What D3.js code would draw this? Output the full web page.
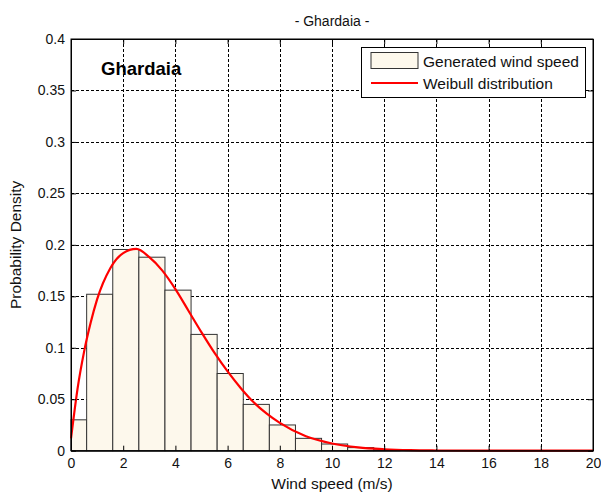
<!DOCTYPE html>
<html>
<head>
<meta charset="utf-8">
<script src="https://cdn.jsdelivr.net/npm/d3@7"></script>
<style>
  body { margin: 0; background: #fff; }
  svg { font-family: "Liberation Sans", Arial, sans-serif; }
</style>
</head>
<body>
<svg id="chart" width="601" height="494"></svg>
<script>
// histogram bins (left edge, right edge, density)
var binEdges = [0, 0.6, 1.6, 2.6, 3.6, 4.6, 5.6, 6.6, 7.6, 8.6, 9.6, 10.6, 11.6, 12.6];
var binDensity = [0.030, 0.152, 0.1955, 0.188, 0.156, 0.113, 0.075, 0.045, 0.025, 0.012, 0.0065, 0.003, 0.0008];

// weibull curve
var curveX = [0, 0.1, 0.25, 0.5, 0.75, 1, 1.5, 2, 2.5, 3, 3.5, 4, 4.5, 5, 5.5, 6, 6.5, 7, 7.5, 8, 9, 10, 11, 12, 13, 14, 16, 18, 20];
var curveY = [0.012, 0.032, 0.060, 0.096, 0.124, 0.147, 0.177, 0.192, 0.196, 0.188, 0.175, 0.157, 0.136, 0.115, 0.095, 0.077, 0.061, 0.047, 0.036, 0.027, 0.014, 0.007, 0.0032, 0.0014, 0.0005, 0.0002, 0, 0, 0];

var xTicks = [0, 2, 4, 6, 8, 10, 12, 14, 16, 18, 20];
var yTicks = [0, 0.05, 0.1, 0.15, 0.2, 0.25, 0.3, 0.35, 0.4];
var legendLabels = ["Generated wind speed", "Weibull distribution"];

var svg = d3.select("#chart");
var pLeft = 71, pRight = 593, pTop = 39, pBottom = 450.7;

var x = d3.scaleLinear().domain([0, 20]).range([pLeft, pRight]);
var y = d3.scaleLinear().domain([0, 0.4]).range([pBottom, pTop]);

// grid (under the bars)
var grid = svg.append("g").attr("stroke", "#000").attr("stroke-width", 1).attr("stroke-dasharray", "3,2");
grid.selectAll(".gx").data(xTicks.slice(1, -1)).enter().append("line")
    .attr("x1", d => Math.round(x(d)) + 0.5).attr("x2", d => Math.round(x(d)) + 0.5)
    .attr("y1", pTop).attr("y2", pBottom);
grid.selectAll(".gy").data(yTicks.slice(1, -1)).enter().append("line")
    .attr("y1", d => Math.round(y(d)) + 0.5).attr("y2", d => Math.round(y(d)) + 0.5)
    .attr("x1", pLeft).attr("x2", pRight);

// bars
svg.append("g").selectAll("rect").data(binDensity).enter().append("rect")
    .attr("x", (d, i) => x(binEdges[i]))
    .attr("width", (d, i) => x(binEdges[i + 1]) - x(binEdges[i]))
    .attr("y", d => y(d))
    .attr("height", d => pBottom - y(d))
    .attr("fill", "#fdf8ec")
    .attr("stroke", "#333")
    .attr("stroke-width", 1);

// weibull line
var line = d3.line().x(d => x(d[0])).y(d => y(d[1])).curve(d3.curveMonotoneX);
svg.append("path")
    .datum(curveX.map((v, i) => [v, curveY[i]]))
    .attr("d", line)
    .attr("fill", "none")
    .attr("stroke", "#ff0000")
    .attr("stroke-width", 2.2);

// axes, ticks pointing inwards like matlab
svg.append("g").attr("transform", "translate(0," + pBottom + ")")
    .call(d3.axisBottom(x).tickValues(xTicks).tickSizeInner(-5).tickSizeOuter(0).tickPadding(7));
svg.append("g").attr("transform", "translate(" + pLeft + ",0)")
    .call(d3.axisLeft(y).tickValues(yTicks).tickFormat(d => d3.format("~g")(d)).tickSizeInner(-5).tickSizeOuter(0).tickPadding(6));
svg.append("g").attr("transform", "translate(0," + pTop + ")")
    .call(d3.axisTop(x).tickValues(xTicks).tickSizeInner(-5).tickSizeOuter(0).tickFormat(""));
svg.append("g").attr("transform", "translate(" + pRight + ",0)")
    .call(d3.axisRight(y).tickValues(yTicks).tickSizeInner(-5).tickSizeOuter(0).tickFormat(""));
svg.selectAll(".domain").attr("stroke", "#000");
svg.selectAll(".tick line").attr("stroke", "#000");
svg.selectAll(".tick text").attr("font-size", 14).attr("fill", "#111")
    .attr("font-family", "'Liberation Sans', Arial, sans-serif");

// box outline
svg.append("rect").attr("x", pLeft).attr("y", pTop).attr("width", pRight - pLeft).attr("height", pBottom - pTop)
    .attr("fill", "none").attr("stroke", "#000");

// titles
svg.append("text").attr("x", (pLeft + pRight) / 2).attr("y", 26).attr("text-anchor", "middle")
    .attr("font-size", 14).attr("fill", "#111").text("- Ghardaia -");
svg.append("text").attr("x", (pLeft + pRight) / 2).attr("y", 489).attr("text-anchor", "middle")
    .attr("font-size", 15.5).attr("fill", "#111").text("Wind speed (m/s)");
svg.append("text").attr("transform", "translate(21," + ((pTop + pBottom) / 2) + ") rotate(-90)")
    .attr("text-anchor", "middle").attr("font-size", 15.5).attr("fill", "#111").text("Probability Density");
svg.append("text").attr("x", 101).attr("y", 75).attr("font-size", 18.5).attr("font-weight", "bold")
    .attr("fill", "#000").text("Ghardaia");

// legend
var lg = svg.append("g");
lg.append("rect").attr("x", 361.5).attr("y", 47.5).attr("width", 224).attr("height", 50)
    .attr("fill", "#fff").attr("stroke", "#000");
lg.append("rect").attr("x", 371).attr("y", 52.5).attr("width", 47).attr("height", 16)
    .attr("fill", "#fdf8ec").attr("stroke", "#333");
lg.append("line").attr("x1", 371).attr("x2", 418).attr("y1", 83).attr("y2", 83)
    .attr("stroke", "#ff0000").attr("stroke-width", 2.2);
lg.selectAll(".lt").data(legendLabels).enter().append("text")
    .attr("x", 423).attr("y", (d, i) => 67 + i * 22)
    .attr("font-size", 15.5).attr("fill", "#111").text(d => d);
</script>
</body>
</html>
